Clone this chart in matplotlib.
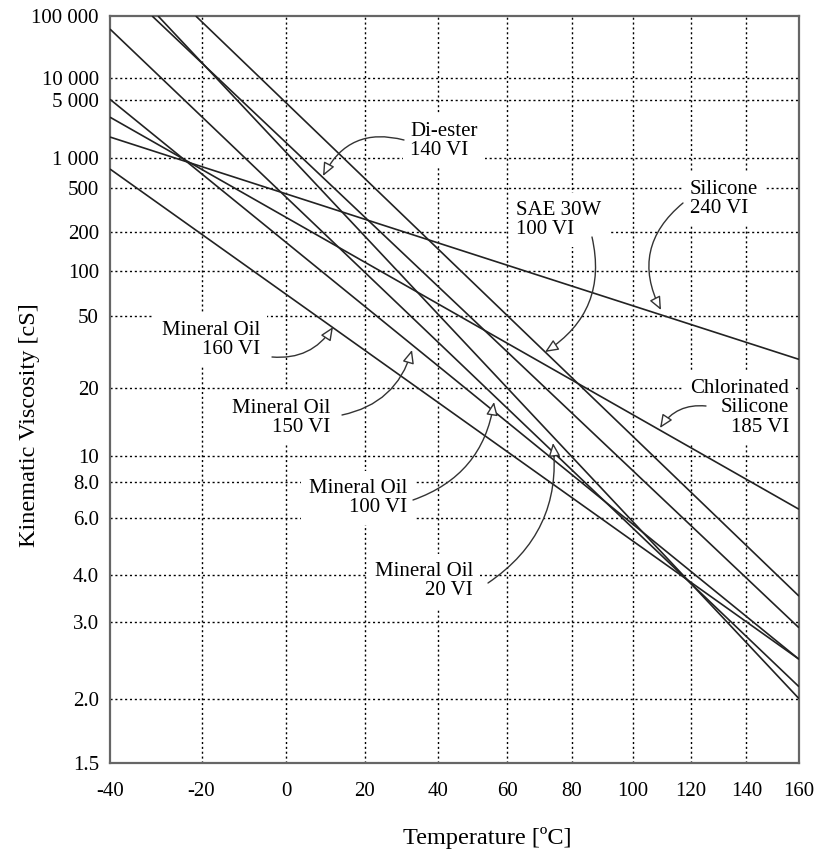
import matplotlib
matplotlib.use("Agg")
import matplotlib.pyplot as plt
import numpy as np

plt.rcParams["font.family"] = ["Liberation Serif", "DejaVu Serif"]

# temperature range of each curve [degC] and kinematic viscosity at its ends [cSt]
silicone_t = [-40, 160]
silicone_v = [1730, 28]
chlor_sil_t = [-40, 160]
chlor_sil_v = [3000, 6.4]
diester_t = [-31, 160]
diester_v = [100000, 2.9]
sae30_t = [-21.3, 160]
sae30_v = [100000, 3.5]
mo20_t = [-29.7, 160]
mo20_v = [100000, 2.0]
mo100_t = [-40, 160]
mo100_v = [59000, 2.12]
mo150_t = [-40, 160]
mo150_v = [5100, 2.44]
mo160_t = [-40, 160]
mo160_v = [770, 2.44]

x_ticks = [-40, -20, 0, 20, 40, 60, 80, 100, 120, 140, 160]
y_ticks = [1.5, 2, 3, 4, 6, 8, 10, 20, 50, 100, 200, 500, 1000, 5000, 10000, 100000]
y_labels = ["1.5", "2.0", "3.0", "4.0", "6.0", "8.0", "10", "20", "50", "100",
            "200", "500", "1 000", "5 000", "10 000", "100 000"]


# ASTM D341 style axes: log(absolute T) vs log(log(v + 0.7))
def fwd_t(t):
    return np.log10(np.clip(np.asarray(t, float) + 273.15, 1e-6, None))


def inv_t(u):
    return 10 ** np.asarray(u, float) - 273.15


def fwd_v(v):
    z = np.clip(np.asarray(v, float) + 0.7, 1.0 + 1e-9, None)
    return np.log10(np.log10(z))


def inv_v(u):
    return 10 ** (10 ** np.asarray(u, float)) - 0.7


W, H = 826, 852
fig = plt.figure(figsize=(W / 100, H / 100), dpi=100)
L, R, T, B = 110, 799, 16, 763
ax = fig.add_axes([L / W, 1 - B / H, (R - L) / W, (B - T) / H])
ax.set_xscale("function", functions=(fwd_t, inv_t))
ax.set_yscale("function", functions=(fwd_v, inv_v))
ax.set_xlim(-40, 160)
ax.set_ylim(1.5, 100000)

ax.set_xticks(x_ticks)
ax.set_xticklabels([str(t) for t in x_ticks])
ax.set_yticks(y_ticks)
ax.set_yticklabels(y_labels)
ax.minorticks_off()
ax.tick_params(axis="both", length=0, labelsize=15)
ax.tick_params(axis="x", pad=14)
ax.tick_params(axis="y", pad=8)

grid_kw = dict(color="black", lw=1.0, ls=(0, (1.5, 2.0)), zorder=0.5)
for t in x_ticks[1:-1]:
    ax.axvline(t, **grid_kw)
for v in y_ticks[1:-1]:
    ax.axhline(v, **grid_kw)

for sp in ax.spines.values():
    sp.set_color("#666666")
    sp.set_linewidth(1.6)

series = [(silicone_t, silicone_v), (chlor_sil_t, chlor_sil_v), (diester_t, diester_v),
          (sae30_t, sae30_v), (mo20_t, mo20_v), (mo100_t, mo100_v),
          (mo150_t, mo150_v), (mo160_t, mo160_v)]
for ts, vs in series:
    ax.plot(ts, vs, color="#222222", lw=1.2, zorder=4, solid_capstyle="butt")


def px(x, y):
    return ((x - L) / (R - L), (B - y) / (B - T))


box = dict(boxstyle="square,pad=0.35", fc="white", ec="none")
arrow = dict(arrowstyle="-|>,head_length=0.8,head_width=0.35", fc="white",
             ec="#333333", lw=1.0, shrinkA=0, shrinkB=0)

labels = [
    # text, text pos, ha, arrow start, arrow tip, rad
    ("Di-ester\n140 VI", (410, 141), "left", (404, 140), (323, 176), 0.4),
    ("SAE 30W\n100 VI", (516, 220), "left", (592, 237), (545, 352), -0.35),
    ("Silicone\n240 VI", (690, 199), "left", (683, 203), (661, 310), 0.4),
    ("Chlorinated\nSilicone\n185 VI", (789, 408), "right", (706, 406), (660, 428), 0.3),
    ("Mineral Oil\n160 VI", (260, 340), "right", (272, 357), (333, 327), 0.3),
    ("Mineral Oil\n150 VI", (330, 418), "right", (342, 415), (412, 350), 0.3),
    ("Mineral Oil\n100 VI", (407, 498), "right", (413, 500), (494, 402), 0.3),
    ("Mineral Oil\n20 VI", (473, 581), "right", (488, 583), (553, 443), 0.3),
]
for txt, pos, ha, start, tip, rad in labels:
    ax.text(*px(*pos), txt, transform=ax.transAxes, ha=ha, va="center", ma=ha,
            fontsize=15, linespacing=1.05, bbox=box, zorder=3)
    ax.annotate("", xy=px(*tip), xycoords="axes fraction",
                xytext=px(*start), textcoords="axes fraction",
                arrowprops=dict(arrow, connectionstyle=f"arc3,rad={rad}"), zorder=5)

fig.text(30 / W, 1 - 425 / H, "Kinematic Viscosity [cS]", rotation=90,
         ha="center", va="center", fontsize=17.5)
fig.text(487 / W, 1 - 838 / H, "Temperature [\u00baC]", ha="center", va="center",
         fontsize=17.5)

fig.savefig("out.png", dpi=100)
